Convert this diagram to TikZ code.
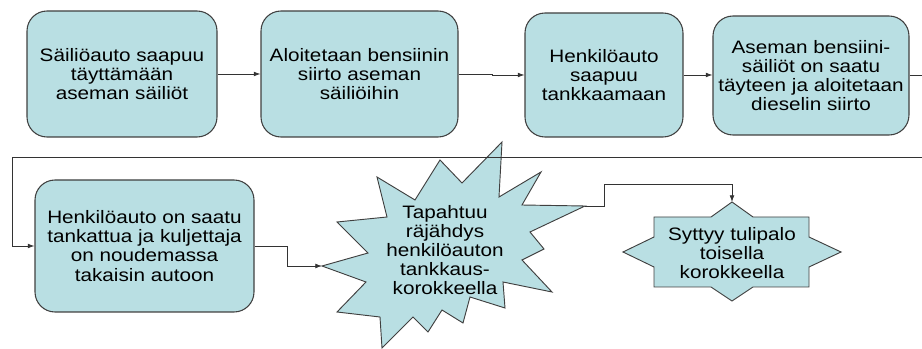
\documentclass[tikz,border=0pt]{standalone}
\usepackage{fontspec}
\setmainfont{Liberation Sans}[FakeStretch=1.15]
\usetikzlibrary{arrows.meta}
\newlength\px
\setlength\px{0.75pt}
\definecolor{boxfill}{RGB}{185,223,227}
\begin{document}
\begin{tikzpicture}[x=0.75pt, y=-0.75pt,
  stepbox/.style={draw=black!75, line width=0.8pt, fill=boxfill, rounded corners=15pt,
    align=center, inner sep=1pt, font=\fontsize{13.5}{14.3}\selectfont},
  burst/.style={draw=black!75, line width=0.7pt, fill=boxfill},
  bursttext/.style={align=center, inner sep=0pt, font=\fontsize{13.5}{14.1}\selectfont},
  link/.style={-{Latex[length=5pt,width=3.6pt]}, line width=0.6pt, black!80}]
  \useasboundingbox (0,0) rectangle (922,349);
  \node[stepbox, minimum width=190\px, minimum height=126\px] (tanker) at (122,74)
    {Säiliöauto saapuu\\täyttämään\\aseman säiliöt};
  \node[stepbox, minimum width=197\px, minimum height=126\px] (pumping) at (359.5,74)
    {Aloitetaan bensiinin\\siirto aseman\\säiliöihin};
  \node[stepbox, minimum width=158\px, minimum height=124\px] (car) at (604,75)
    {Henkilöauto\\saapuu\\tankkaamaan};
  \node[stepbox, minimum width=196\px, minimum height=119\px] (diesel) at (811,75.5)
    {Aseman bensiini-\\säiliöt on saatu\\täyteen ja aloitetaan\\dieselin siirto};
  \node[stepbox, minimum width=219\px, minimum height=132\px] (driver) at (144.5,246)
    {Henkilöauto on saatu\\tankattua ja kuljettaja\\on noudemassa\\takaisin autoon};
  \draw[burst] (322,266) -- (368,253) -- (337,222) -- (387,217) -- (377,177) -- (415,200)
    -- (440,160) -- (462,183) -- (502,142) -- (499,197) -- (541,172) -- (522,205)
    -- (585,206) -- (530,232) -- (544,249) -- (522,260) -- (552,292) -- (503,282)
    -- (505,308) -- (470,297) -- (463,323) -- (442,310) -- (428,332) -- (413,317)
    -- (382,348) -- (380,317) -- (337,312) -- (366,282) -- cycle;
  \node[bursttext] (blast) at (445,250)
    {Tapahtuu\\räjähdys\\henkilöauton\\tankkaus-\\korokkeella};
  \coordinate (blastL) at (322,266);
  \coordinate (blastR) at (585,206);
  \draw[burst] (654,217) -- (711,217) -- (732,202) -- (753,217) -- (809,217) -- (809,237)
    -- (841,252) -- (809,267) -- (809,287) -- (753,287) -- (732,301) -- (711,287)
    -- (654,287) -- (654,267) -- (623,252) -- (654,237) -- cycle;
  \node[bursttext] (fire) at (732,253) {Syttyy tulipalo\\toisella\\korokkeella};
  \coordinate (fireN) at (732,202);
  \coordinate (loopR) at (935,157);
  \coordinate (loopL) at (12,157);
  \draw[link] (tanker) -- (pumping);
  \draw[link] (pumping.east) -- ++(34,0) |- (car.west);
  \draw[link] (car.east) -- (car.east -| diesel.west);
  \draw[link] (diesel.east) -| (loopR) -- (loopL) |- (driver.west);
  \draw[link] (driver.east) -- ++(33,0) |- (blastL);
  \draw[link] (blastR) -- ++(19,0) -- ++(0,-22) -| (fireN);
\end{tikzpicture}
\end{document}
